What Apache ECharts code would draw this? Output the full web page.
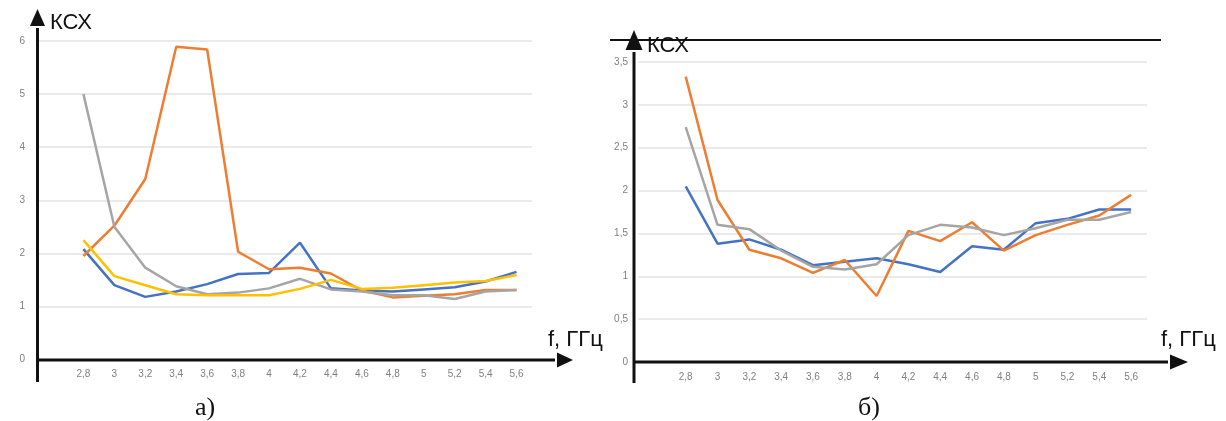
<!DOCTYPE html>
<html>
<head>
<meta charset="utf-8">
<script src="https://cdn.jsdelivr.net/npm/echarts@6/dist/echarts.min.js"></script>
<style>
html,body{margin:0;padding:0;background:#fff;}
#c{width:1226px;height:421px;}
</style>
</head>
<body>
<div id="c"></div>
<script>
// Categories (first one is an empty slot, as in the reference)
const categories = ['', '2,8', '3', '3,2', '3,4', '3,6', '3,8', '4', '4,2', '4,4', '4,6', '4,8', '5', '5,2', '5,4', '5,6'];

// Chart a)
const aBlue   = [null, 2.08, 1.40, 1.18, 1.28, 1.42, 1.61, 1.63, 2.20, 1.34, 1.30, 1.28, 1.32, 1.36, 1.47, 1.65];
const aOrange = [null, 1.95, 2.52, 3.40, 5.89, 5.84, 2.03, 1.70, 1.73, 1.62, 1.30, 1.17, 1.20, 1.23, 1.31, 1.31];
const aGray   = [null, 5.00, 2.50, 1.73, 1.38, 1.23, 1.26, 1.34, 1.52, 1.32, 1.28, 1.21, 1.21, 1.14, 1.28, 1.31];
const aYellow = [null, 2.25, 1.57, 1.40, 1.23, 1.21, 1.21, 1.21, 1.33, 1.50, 1.33, 1.35, 1.40, 1.45, 1.48, 1.59];

// Chart б)
const bBlue   = [null, 2.05, 1.38, 1.43, 1.31, 1.13, 1.17, 1.21, 1.14, 1.05, 1.35, 1.31, 1.62, 1.67, 1.78, 1.78];
const bOrange = [null, 3.33, 1.89, 1.31, 1.21, 1.04, 1.19, 0.77, 1.53, 1.41, 1.63, 1.30, 1.48, 1.60, 1.71, 1.95];
const bGray   = [null, 2.74, 1.60, 1.55, 1.30, 1.11, 1.08, 1.14, 1.48, 1.60, 1.57, 1.48, 1.56, 1.66, 1.66, 1.75];

// Tick labels
const aYTicks = ['0', '1', '2', '3', '4', '5', '6'];
const bYTicks = ['0', '0,5', '1', '1,5', '2', '2,5', '3', '3,5'];

const BLUE = '#4472C4', ORANGE = '#ED7D31', GRAY = '#A5A5A5', YELLOW = '#FFC000';
const LBL = '#7f7f7f';

function xAxis(gi) {
  return {
    type: 'category', gridIndex: gi, data: categories, boundaryGap: true,
    axisLine: {show: false}, axisTick: {show: false},
    axisLabel: {color: LBL, fontSize: 10, fontFamily: 'Liberation Sans', margin: 10, interval: 0},
    splitLine: {show: false}
  };
}
function yAxis(gi, max, interval, labels, margin) {
  return {
    type: 'value', gridIndex: gi, min: 0, max: max, interval: interval,
    axisLine: {show: false}, axisTick: {show: false},
    axisLabel: {color: LBL, fontSize: 10, fontFamily: 'Liberation Sans', margin: margin,
      formatter: function (v) { return labels[Math.round(v / interval)]; }},
    splitLine: {show: true, lineStyle: {color: '#e3e3e3', width: 1.5}}
  };
}
function line(xi, data, color) {
  return {type: 'line', xAxisIndex: xi, yAxisIndex: xi, data: data, symbol: 'none',
    lineStyle: {color: color, width: 2.5}, itemStyle: {color: color}, connectNulls: false, z: 3};
}

function arrowUp(x, tipY, baseY, bottomY, w) {
  return [
    {type: 'line', shape: {x1: x, y1: bottomY, x2: x, y2: baseY + 2}, style: {stroke: '#111', lineWidth: 3}, z: 10},
    {type: 'polygon', shape: {points: [[x, tipY], [x - w / 2, baseY], [x + w / 2, baseY]]}, style: {fill: '#111'}, z: 10}
  ];
}
function arrowRight(y, leftX, baseX, tipX, h) {
  return [
    {type: 'line', shape: {x1: leftX, y1: y, x2: baseX - 2, y2: y}, style: {stroke: '#111', lineWidth: 3}, z: 10},
    {type: 'polygon', shape: {points: [[tipX, y], [baseX, y - h / 2], [baseX, y + h / 2]]}, style: {fill: '#111'}, z: 10}
  ];
}
function txt(x, y, s, size, family) {
  return {type: 'text', x: x, y: y, z: 11,
    style: {text: s, fontSize: size, fontFamily: family, fill: '#111', align: 'left', verticalAlign: 'middle'}};
}

const chart = echarts.init(document.getElementById('c'), null, {renderer: 'canvas'});
chart.setOption({
  animation: false,
  backgroundColor: '#fff',
  grid: [
    {left: 37, right: 694, top: 41, bottom: 61.5},
    {left: 638, right: 79, top: 62, bottom: 59}
  ],
  xAxis: [xAxis(0), xAxis(1)],
  yAxis: [yAxis(0, 6, 1, aYTicks, 12), yAxis(1, 3.5, 0.5, bYTicks, 10)],
  series: [
    line(0, aBlue, BLUE), line(0, aOrange, ORANGE), line(0, aGray, GRAY), line(0, aYellow, YELLOW),
    line(1, bBlue, BLUE), line(1, bOrange, ORANGE), line(1, bGray, GRAY)
  ],
  graphic: [].concat(
    // chart a) axes
    arrowUp(37.5, 9, 26, 382, 15),
    arrowRight(360, 36, 557, 573, 15),
    // chart б) top border line
    [{type: 'line', shape: {x1: 610, y1: 40, x2: 1161, y2: 40}, style: {stroke: '#111', lineWidth: 2}, z: 9}],
    // chart б) axes
    arrowUp(634, 30, 50, 383, 17),
    arrowRight(362, 633, 1170, 1188, 15),
    [
      txt(50, 23, 'КСХ', 22, 'Liberation Sans'),
      txt(548, 340, 'f, ГГц', 22, 'Liberation Sans'),
      txt(647, 46, 'КСХ', 22, 'Liberation Sans'),
      txt(1161, 340, 'f, ГГц', 22, 'Liberation Sans'),
      txt(195, 408, 'а)', 26, 'Liberation Serif'),
      txt(858, 408, 'б)', 26, 'Liberation Serif')
    ]
  )
});
</script>
</body>
</html>
